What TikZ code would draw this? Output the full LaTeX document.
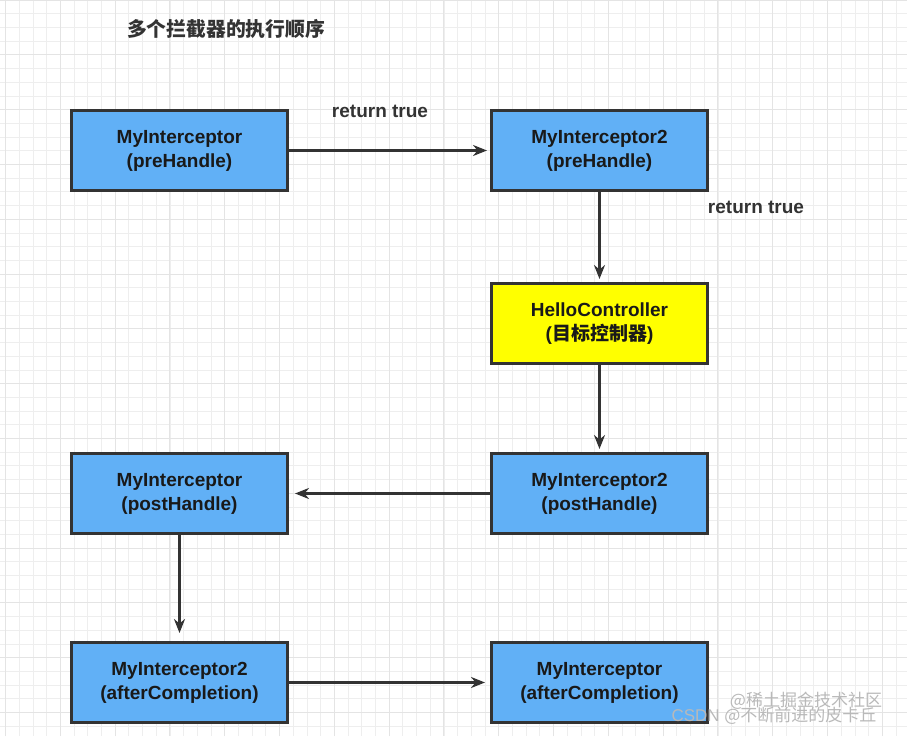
\documentclass[tikz,border=0pt]{standalone}
\usepackage{fontspec}
\setmainfont{Liberation Sans}
\newfontfamily\cjk{Noto Sans CJK SC}
\usetikzlibrary{arrows.meta}
\definecolor{boxblue}{RGB}{97,176,246}
\definecolor{boxline}{RGB}{51,51,51}
\definecolor{ctrlyellow}{RGB}{255,255,0}
\definecolor{gridminor}{RGB}{238,238,238}
\definecolor{gridmajor}{RGB}{228,228,228}
\definecolor{markgray}{RGB}{185,185,185}
\tikzstyle{process} = [rectangle, minimum width=216pt, minimum height=80pt, text centered, align=center, draw=boxline, line width=3pt, fill=boxblue, font=\fontsize{19}{24}\selectfont\bfseries, text=black!90]
\tikzstyle{controller} = [process, fill=ctrlyellow]
\tikzstyle{label} = [font=\fontsize{19}{24}\selectfont\bfseries, text=boxline]
\tikzstyle{arrow} = [line width=2.5pt, draw=boxline, ->, >={Stealth[length=14pt,width=11pt]}, shorten >=3pt]
\tikzstyle{watermark} = [font=\fontsize{17}{18}\selectfont, text=markgray]

\begin{document}
\begin{tikzpicture}[x=1pt, y=1pt, node distance=170pt]
\useasboundingbox (0,-736) rectangle (907,0);
\fill[white] (0,-736) rectangle (907,0);

% Grid
\draw[gridminor, line width=0.8pt, shift={(5.5,0)}, step=13.7pt] (-5.5,-736) grid (901.5,0);
\draw[gridmajor, line width=1pt, shift={(5.5,0)}, step=54.8pt] (-5.5,-736) grid (901.5,0);

% Title
\node (title) [label, font=\fontsize{19.8}{24}\selectfont\cjk\bfseries] at (226,-29) {多个拦截器的执行顺序};

% Nodes
\node (pre1) [process] at (179.5,-150.5) {MyInterceptor\\(preHandle)};
\node (pre2) [process, right of=pre1, xshift=250pt] {MyInterceptor2\\(preHandle)};
\node (ctrl) [controller, below of=pre2, yshift=-3pt] {HelloController\\({\cjk 目标控制器})};
\node (post2) [process, below of=ctrl] {MyInterceptor2\\(postHandle)};
\node (post1) [process, left of=post2, xshift=-250pt] {MyInterceptor\\(postHandle)};
\node (after2) [process, below of=post1, yshift=-19pt] {MyInterceptor2\\(afterCompletion)};
\node (after1) [process, right of=after2, xshift=250pt] {MyInterceptor\\(afterCompletion)};

% Labels
\node (ret1) [label] at (380,-111) {return true};
\node (ret2) [label] at (756,-207) {return true};

% Arrows
\draw [arrow] (pre1) -- (pre2);
\draw [arrow] (pre2) -- (ctrl);
\draw [arrow] (ctrl) -- (post2);
\draw [arrow, shorten >=6pt] (post2) -- (post1);
\draw [arrow, shorten >=8pt] (post1) -- (after2);
\draw [arrow, shorten >=5pt] (after2) -- (after1);

% Watermark
\node (mark1) [watermark] at (806,-701) {{\cjk @稀土掘金技术社区}};
\node (mark2) [watermark] at (774,-716) {CSDN {\cjk @不断前进的皮卡丘}};

\end{tikzpicture}
\end{document}
